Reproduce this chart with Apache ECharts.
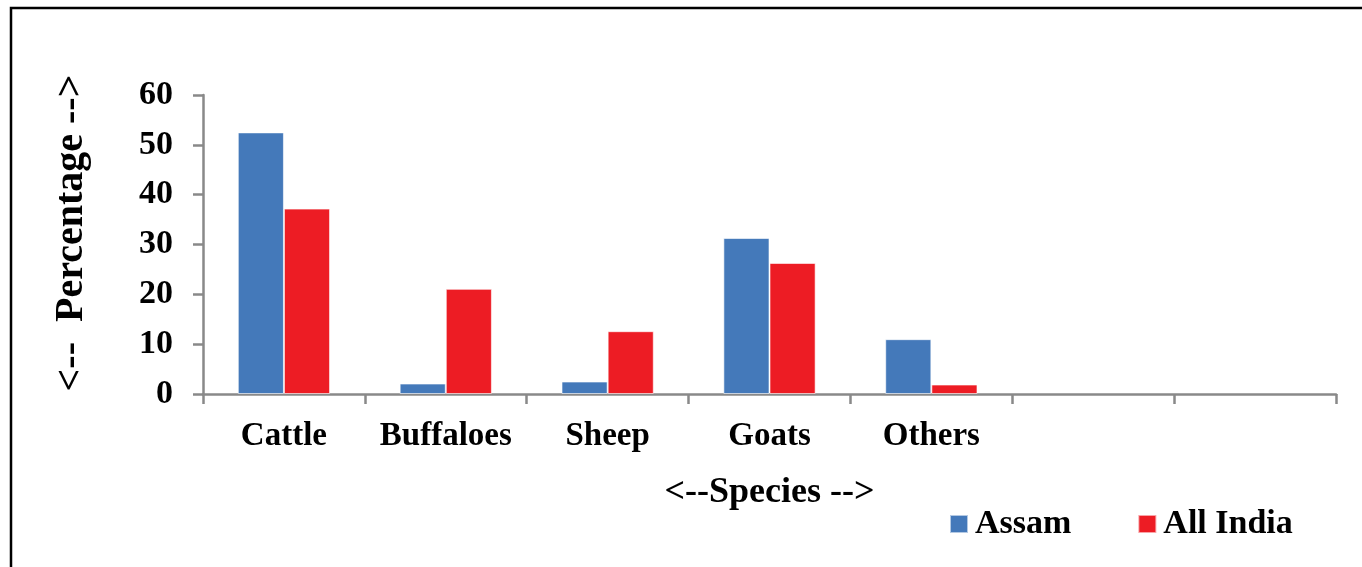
<!DOCTYPE html>
<html>
<head>
<meta charset="utf-8">
<script src="https://cdn.jsdelivr.net/npm/echarts@6/dist/echarts.min.js"></script>
<style>
html,body{margin:0;padding:0;background:#fff;}
#chart{width:1362px;height:567px;}
</style>
</head>
<body>
<div id="chart"></div>
<script>
var categories = ['Cattle', 'Buffaloes', 'Sheep', 'Goats', 'Others', '', ''];
var assam = [52.5, 2.1, 2.5, 31.3, 11.0, null, null];
var allIndia = [37.2, 21.1, 12.6, 26.3, 1.9, null, null];
var yTicks = [0, 10, 20, 30, 40, 50, 60];

var FONT = '"Liberation Serif", "Times New Roman", serif';
var chart = echarts.init(document.getElementById('chart'), null, {renderer: 'canvas'});
chart.setOption({
  animation: false,
  backgroundColor: '#ffffff',
  grid: {left: 203, right: 26, top: 95, bottom: 173, containLabel: false},
  graphic: [
    {type: 'rect', shape: {x: 11, y: 8, width: 1420, height: 620},
     style: {fill: 'none', stroke: '#000', lineWidth: 2.5}, silent: true},
    {type: 'text', x: 72, y: 233, rotation: Math.PI / 2,
     style: {text: '<--  Percentage -->', font: 'bold 40px ' + FONT, fill: '#000',
             align: 'center', verticalAlign: 'middle'}}
  ],
  legend: {
    data: ['Assam', 'All India'],
    left: 949, top: 507, padding: 0,
    itemWidth: 18, itemHeight: 18, itemGap: 66,
    icon: 'rect',
    textStyle: {fontFamily: FONT, fontWeight: 'bold', fontSize: 34, color: '#000', padding: [0, 0, 0, 2]}
  },
  xAxis: {
    type: 'category',
    data: categories,
    name: '<--Species -->',
    nameLocation: 'middle',
    nameGap: 81,
    nameTextStyle: {fontFamily: FONT, fontWeight: 'bold', fontSize: 36, color: '#000'},
    axisLine: {lineStyle: {color: '#898989', width: 2.5}},
    axisTick: {show: true, length: 10, lineStyle: {color: '#898989', width: 2.5}},
    axisLabel: {fontFamily: FONT, fontWeight: 'bold', fontSize: 33, color: '#000', margin: 26, interval: 0}
  },
  yAxis: {
    type: 'value',
    min: yTicks[0], max: yTicks[yTicks.length - 1], interval: 10,
    splitLine: {show: false},
    axisLine: {show: true, lineStyle: {color: '#898989', width: 2.5}},
    axisTick: {show: true, length: 10, lineStyle: {color: '#898989', width: 2.5}},
    axisLabel: {fontFamily: FONT, fontWeight: 'bold', fontSize: 34, color: '#000', margin: 30}
  },
  series: [
    {name: 'Assam', type: 'bar', data: assam, barGap: '0%', barCategoryGap: '43%',
     itemStyle: {color: '#4479BA', borderColor: 'rgba(255,255,255,0.6)', borderWidth: 1}},
    {name: 'All India', type: 'bar', data: allIndia,
     itemStyle: {color: '#ED1C24', borderColor: 'rgba(255,255,255,0.6)', borderWidth: 1}}
  ]
});
</script>
</body>
</html>
